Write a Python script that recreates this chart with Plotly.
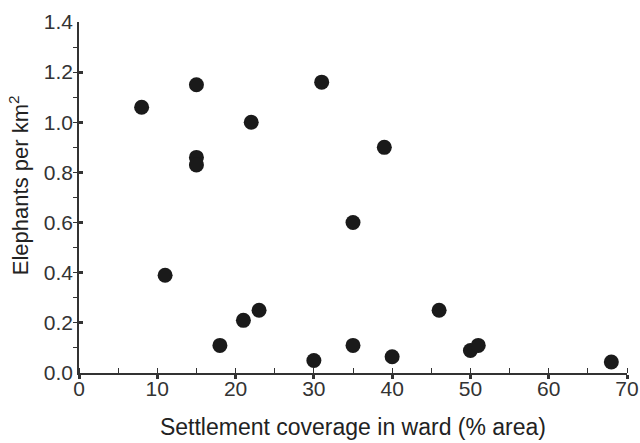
import plotly.graph_objects as go

settlement = [8, 15, 15, 15, 22, 31, 39, 35, 11, 18, 21, 23, 30, 35, 40, 46, 50, 51, 68]
elephants = [1.06, 1.15, 0.86, 0.83, 1.00, 1.16, 0.90, 0.60, 0.39, 0.11, 0.21, 0.25,
             0.05, 0.11, 0.065, 0.25, 0.09, 0.11, 0.044]

x_ticks = [0, 10, 20, 30, 40, 50, 60, 70]
y_ticks = [0.0, 0.2, 0.4, 0.6, 0.8, 1.0, 1.2, 1.4]
y_labels = ["0.0", "0.2", "0.4", "0.6", "0.8", "1.0", "1.2", "1.4"]
y_title = "Elephants per km<sup>2</sup>"
x_title = "Settlement coverage in ward (% area)"

fig = go.Figure()
fig.add_trace(go.Scatter(
    x=settlement, y=elephants, mode="markers",
    marker=dict(size=15, color="#1a1a1a", line=dict(width=0)),
    showlegend=False,
))

font = "Liberation Sans, Arial, sans-serif"
fig.update_layout(
    width=640, height=443,
    margin=dict(l=79, r=13, t=22, b=70),
    paper_bgcolor="white", plot_bgcolor="white",
    font=dict(family=font, color="#222222"),
    xaxis=dict(
        range=[0, 70], tickvals=x_ticks, ticktext=[str(v) for v in x_ticks],
        showline=True, linecolor="#333333", linewidth=1.5,
        ticks="outside", ticklen=4, tickwidth=3, tickcolor="#333333",
        ticklabelstandoff=-8,
        minor=dict(dtick=5, ticks="inside", ticklen=5, tickwidth=1, tickcolor="#333333"),
        showgrid=False, zeroline=False, automargin=False,
        tickfont=dict(size=21, family=font, color="#333333"),
        title=dict(text=x_title, standoff=20,
                   font=dict(size=23, family=font, color="#222222")),
    ),
    yaxis=dict(
        range=[0, 1.4], tickvals=y_ticks, ticktext=y_labels,
        showline=True, linecolor="#333333", linewidth=1.5,
        ticks="inside", ticklen=4, tickwidth=3, tickcolor="#333333",
        minor=dict(dtick=0.1, ticks="outside", ticklen=4, tickwidth=1, tickcolor="#333333"),
        showgrid=False, zeroline=False, automargin=False,
        tickfont=dict(size=21, family=font, color="#333333"),
    ),
    annotations=[dict(
        text=y_title, textangle=-90, showarrow=False,
        xref="paper", yref="paper", x=0, y=0.535,
        xanchor="center", yanchor="middle", xshift=-60,
        font=dict(size=22, family=font, color="#222222"),
    )],
)

fig.write_html("out.html")
